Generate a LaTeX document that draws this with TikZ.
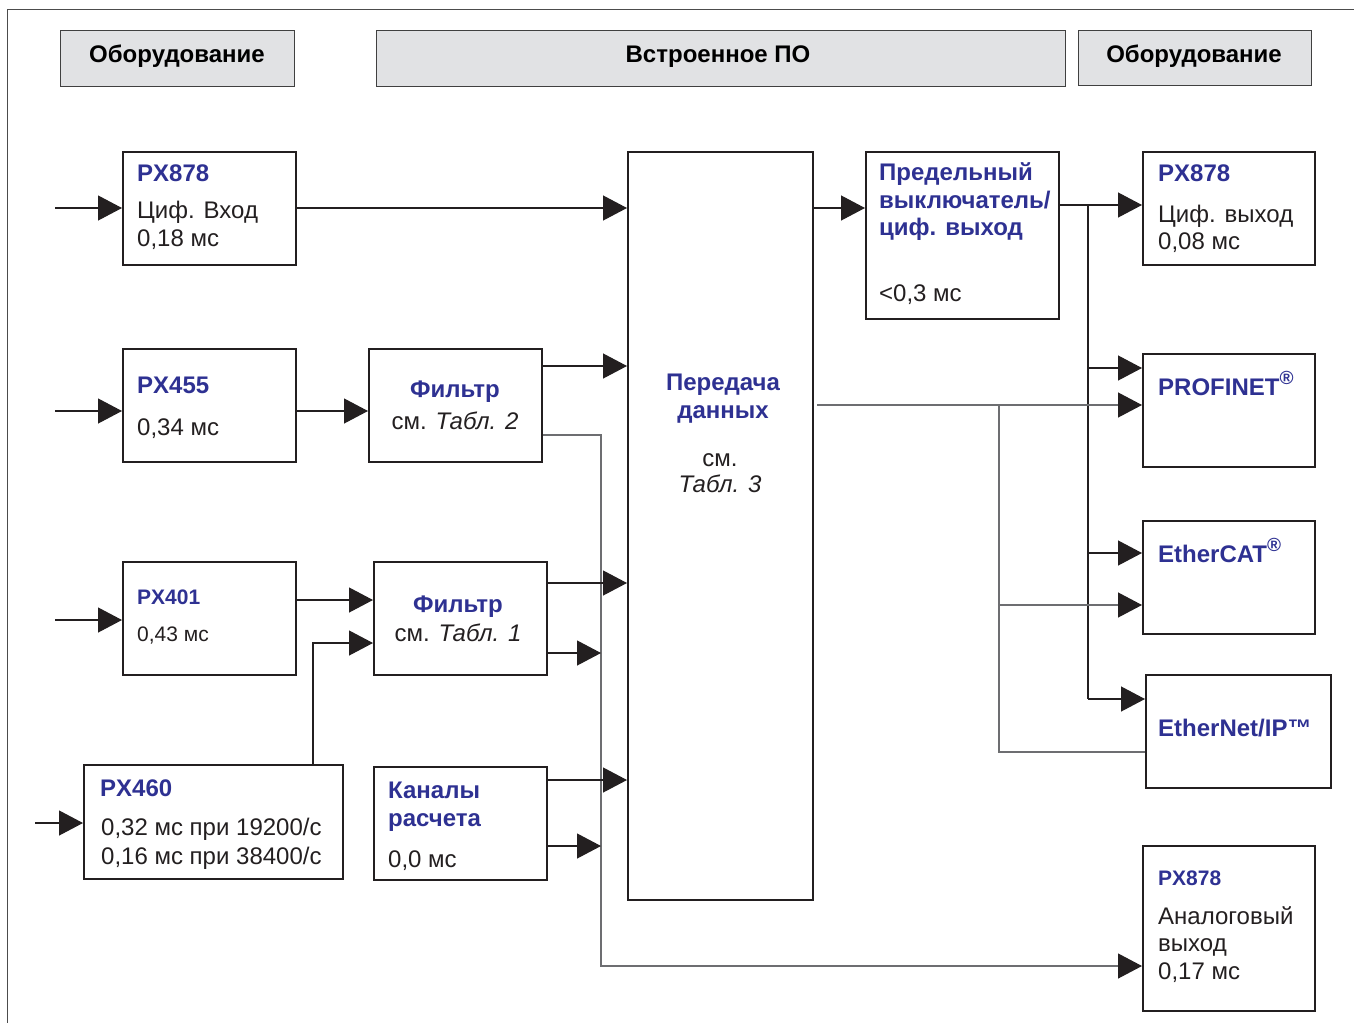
\documentclass[tikz,border=0pt]{standalone}
\usepackage{fontspec}
\setmainfont{Liberation Sans}
\usetikzlibrary{arrows.meta,calc}
\definecolor{bluet}{HTML}{2E3192}
\definecolor{headfill}{HTML}{E1E2E4}
\definecolor{boxc}{HTML}{231F20}
\definecolor{glc}{HTML}{6D6E71}
\newcommand{\regmark}{\raisebox{0.42em}{\fontsize{19}{19}\selectfont ®}}
\begin{document}
\begin{tikzpicture}[x=1pt,y=-1pt,
  box/.style={draw=boxc, line width=2.4pt, inner sep=0pt, anchor=north west},
  headbox/.style={draw=black!75, fill=headfill, line width=1.1pt, inner sep=0pt, anchor=north west},
  headtxt/.style={anchor=base, inner sep=0pt, font=\bfseries\fontsize{24}{28}\selectfont},
  ttl/.style={anchor=base west, inner sep=0pt, text=bluet, font=\bfseries\fontsize{24}{28}\selectfont},
  ttlc/.style={ttl, anchor=base},
  sttl/.style={ttl, font=\bfseries\fontsize{21}{25}\selectfont},
  txt/.style={anchor=base west, inner sep=0pt, text=boxc, font=\fontsize{24}{28}\selectfont},
  txtc/.style={txt, anchor=base},
  stxt/.style={txt, font=\fontsize{21}{25}\selectfont},
  arr/.style={draw=boxc, line width=1.2pt, -{Triangle[length=24pt,width=25pt,color=boxc]}},
  ln/.style={draw=boxc, line width=1.2pt},
  gln/.style={draw=glc, line width=1.2pt},
  garr/.style={gln, -{Triangle[length=24pt,width=25pt,color=boxc]}}
]
\useasboundingbox (0,0) rectangle (1354,1023);
% outer frame
\coordinate (fTL) at (7,9);
\coordinate (fTR) at (1354,9);
\coordinate (fBL) at (7,1023);
\draw[draw=black!70, line width=1pt] (fTR) -- (fTL) -- (fBL);

% headers
\node[headbox, minimum width=234pt, minimum height=56pt] (h1) at (60,30) {};
\node[headbox, minimum width=689pt, minimum height=56pt] (h2) at (376,30) {};
\node[headbox, minimum width=233pt, minimum height=55pt] (h3) at (1078,30) {};
\node[headtxt] (h1t) at (177,62) {Оборудование};
\node[headtxt] (h2t) at (718,62) {Встроенное ПО};
\node[headtxt] (h3t) at (1194,62) {Оборудование};

% boxes
\node[box, minimum width=173pt, minimum height=113pt] (inA) at (122,151) {};
\node[box, minimum width=173pt, minimum height=113pt] (inB) at (122,348) {};
\node[box, minimum width=173pt, minimum height=113pt] (filt2) at (368,348) {};
\node[box, minimum width=173pt, minimum height=113pt] (inC) at (122,561) {};
\node[box, minimum width=173pt, minimum height=113pt] (filt1) at (373,561) {};
\node[box, minimum width=259pt, minimum height=114pt] (inD) at (83,764) {};
\node[box, minimum width=173pt, minimum height=113pt] (kan) at (373,766) {};
\node[box, minimum width=185pt, minimum height=748pt] (main) at (627,151) {};
\node[box, minimum width=193pt, minimum height=167pt] (pred) at (865,151) {};
\node[box, minimum width=172pt, minimum height=113pt] (outA) at (1142,151) {};
\node[box, minimum width=172pt, minimum height=113pt] (pn) at (1142,353) {};
\node[box, minimum width=172pt, minimum height=113pt] (ec) at (1142,520) {};
\node[box, minimum width=185pt, minimum height=113pt] (eip) at (1145,674) {};
\node[box, minimum width=172pt, minimum height=165pt] (an) at (1142,845) {};

% texts
\node[ttl] (inAt1) at (137,181) {PX878};
\node[txt] (inAt2) at (137,218) {Циф. Вход};
\node[txt] (inAt3) at (137,246) {0,18 мс};
\node[ttl] (inBt1) at (137,393) {PX455};
\node[txt] (inBt2) at (137,435) {0,34 мс};
\node[sttl] (inCt1) at (137,604) {PX401};
\node[stxt] (inCt2) at (137,641) {0,43 мс};
\node[ttl] (inDt1) at (100,796) {PX460};
\node[txt] (inDt2) at (101,835) {0,32 мс при 19200/с};
\node[txt] (inDt3) at (101,864) {0,16 мс при 38400/с};
\node[ttl] (kant1) at (388,798) {Каналы};
\node[ttl] (kant2) at (388,826) {расчета};
\node[txt] (kant3) at (388,867) {0,0 мс};
\node[ttlc] (f2t1) at (455,397) {Фильтр};
\node[txtc] (f2t2) at (455,429) {см. \textit{Табл. 2}};
\node[ttlc] (f1t1) at (458,612) {Фильтр};
\node[txtc] (f1t2) at (458,641) {см. \textit{Табл. 1}};
\node[ttlc] (mt1) at (723,390) {Передача};
\node[ttlc] (mt2) at (723,418) {данных};
\node[txtc] (mt3) at (720,466) {см.};
\node[txtc] (mt4) at (720,492) {\textit{Табл. 3}};
\node[ttl] (pt1) at (879,180) {Предельный};
\node[ttl] (pt2) at (879,208) {выключатель/};
\node[ttl] (pt3) at (879,235) {циф. выход};
\node[txt] (pt4) at (879,301) {<0,3 мс};
\node[ttl] (oAt1) at (1158,181) {PX878};
\node[txt] (oAt2) at (1158,222) {Циф. выход};
\node[txt] (oAt3) at (1158,249) {0,08 мс};
\node[ttl] (pnt) at (1158,395) {PROFINET\regmark};
\node[ttl] (ect) at (1158,562) {EtherCAT\regmark};
\node[ttl] (eipt) at (1158,736) {EtherNet/IP™};
\node[sttl] (ant1) at (1158,885) {PX878};
\node[txt] (ant2) at (1158,924) {Аналоговый};
\node[txt] (ant3) at (1158,951) {выход};
\node[txt] (ant4) at (1158,979) {0,17 мс};

% coordinates
\coordinate (sA) at (55,208);
\coordinate (sB) at (55,411);
\coordinate (sC) at (55,620);
\coordinate (sD) at (35,823);
\coordinate (y366) at (0,366);
\coordinate (y435) at (0,435);
\coordinate (y600) at (0,600);
\coordinate (y583) at (0,583);
\coordinate (y653) at (0,653);
\coordinate (y643) at (0,643);
\coordinate (y780) at (0,780);
\coordinate (y846) at (0,846);
\coordinate (y966) at (0,966);
\coordinate (y205) at (0,205);
\coordinate (y368) at (0,368);
\coordinate (y553) at (0,553);
\coordinate (y699) at (0,699);
\coordinate (y605) at (0,605);
\coordinate (y752) at (0,752);
\coordinate (x601) at (601,0);
\coordinate (x313) at (313,0);
\coordinate (x1088) at (1088,0);
\coordinate (mo) at (817,405);
\coordinate (x999) at (999,0);

% inputs
\draw[arr] (sA) -- (sA -| inA.west);
\draw[arr] (sB) -- (sB -| inB.west);
\draw[arr] (sC) -- (sC -| inC.west);
\draw[arr] (sD) -- (sD -| inD.west);

% left side connectors
\draw[arr] (inA.east |- sA) -- (main.west |- sA);
\draw[arr] (inB.east |- sB) -- (filt2.west |- sB);
\draw[arr] (filt2.east |- y366) -- (main.west |- y366);
\draw[garr] (filt2.east |- y435) -- (x601 |- y435) -- (x601 |- y966) -- (an.west |- y966);
\draw[arr] (inC.east |- y600) -- (filt1.west |- y600);
\draw[arr] (filt1.east |- y583) -- (main.west |- y583);
\draw[arr] (filt1.east |- y653) -- (x601 |- y653);
\draw[arr] (x313 |- inD.north) -- (x313 |- y643) -- (filt1.west |- y643);
\draw[arr] (kan.east |- y780) -- (main.west |- y780);
\draw[arr] (kan.east |- y846) -- (x601 |- y846);

% right side connectors
\draw[arr] (main.east |- sA) -- (pred.west |- sA);
\draw[arr] (pred.east |- y205) -- (outA.west |- y205);
\draw[ln] (x1088 |- y205) -- (x1088 |- y699);
\draw[arr] (x1088 |- y368) -- (pn.west |- y368);
\draw[arr] (x1088 |- y553) -- (ec.west |- y553);
\draw[arr] (x1088 |- y699) -- (eip.west |- y699);
\draw[garr] (mo) -- (pn.west |- mo);
\draw[gln] (x999 |- mo) -- (x999 |- y752) -- (eip.west |- y752);
\draw[garr] (x999 |- y605) -- (ec.west |- y605);
\end{tikzpicture}
\end{document}
